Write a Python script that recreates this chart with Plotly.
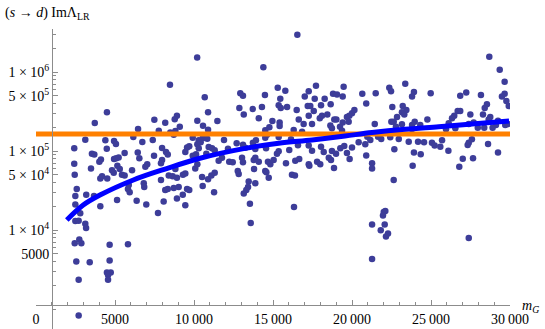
import plotly.graph_objects as go

# scatter points: m_G and (s -> d) Im Lambda_LR
m_g = [
    10200, 8480, 10680, 10890, 4490, 3720, 8920, 8780, 7490, 8180, 10210, 9100, 10570, 6460,
    7770, 8500, 8820, 10890, 3120, 4390, 4940, 5060, 6160, 6730, 7390, 8720, 9920, 10300,
    10550, 10840, 10210, 10420, 10930, 9700, 9560, 2420, 4480, 5610, 6440, 7980, 8230, 8340,
    9450, 9920, 10130, 10300, 10780, 3540, 3690, 4940, 5080, 5230, 4110, 4010, 6540, 7470,
    7980, 7910, 2420, 3480, 4810, 5150, 5300, 6080, 7040, 6920, 8820, 10080, 10210,
    16540, 14390, 15300, 15780, 17720, 19470, 17260, 17010, 18800, 19050, 19410, 20650, 12930,
    13100, 14490, 15460, 17640, 18270, 20900, 12870, 13720, 14300, 15360, 15490, 15890, 16500,
    17200, 17360, 17580, 18040, 18650, 13150, 14100, 14960, 15420, 16630, 17260, 17960, 18100,
    18440, 18880, 19010, 19410, 19680, 19830, 20000, 20150, 11480, 14770, 15420, 16940, 17470,
    18630, 18730, 19240, 19790, 19370, 14510, 16310, 16840, 11900, 12700, 13100, 13730, 13920,
    14510, 14620, 15360, 16140, 11140, 11310, 12150, 13250, 13880, 14560, 15360, 15250, 16030,
    16580, 17260, 17470, 18040, 18210, 18730, 19260, 19680, 19510, 20420, 20840, 20000, 20970,
    21160, 20900, 11770, 11560, 12230, 12450, 13040, 13100, 13780, 13880, 14100, 14680, 14830,
    15040, 15820, 16410, 16660, 17790, 17990, 18530, 18670, 18860, 17260, 19850, 12770, 13800,
    14510,
    28690, 29350, 29660, 23370, 22360, 22470, 21500, 23920, 23800, 24980, 27230, 26850, 28160,
    29660, 29490, 29770, 22550, 23210, 23440, 23160, 23310, 22850, 22490, 22640, 28540, 28400,
    28290, 29920, 26690, 26850, 26470, 26330, 27490, 28750, 28650, 24770, 21440, 22780, 23160,
    23800, 23970, 24320, 26120, 27390, 27700, 29240, 29110, 29700, 29870, 23800, 25950, 26540,
    27960, 28370, 28900, 21650, 21850, 22420, 22960, 23590, 24180, 24560, 25060, 25230, 25590,
    25700, 27390, 27590, 27320, 28610, 22680, 23920, 24350, 26100, 29240, 23840, 27010, 27660,
    26790, 21270, 21270, 17300, 18990,
    2450, 2580, 2490, 2490, 3180, 2800, 2490, 2700, 3120, 3170, 2450, 2740, 2870, 2550, 3400,
    2700, 4660, 4660, 4490, 4730, 4560, 4560, 5820, 2700, 4070, 5130, 3670, 4070, 4180, 4510,
    4920, 5440, 5610, 5870, 5820, 5930, 6370, 6820, 6850, 6980, 7720, 7910, 8080, 8180, 8340,
    8400, 8650, 8920, 8720, 9030, 8920, 9290, 9450, 9560, 9700, 9300, 9450, 10550, 10510,
    10890, 11100,
    11310, 11270, 12830, 13460, 13420, 13310, 13150, 13880, 13540, 13590, 14580, 14730, 16200,
    16390, 16330, 22640, 22010, 22110, 21960, 21270, 22070, 21820, 22280, 22150, 21270, 27390,
]
im_lambda = [
    1.53e6, 6.9e5, 4.8e5, 3.1e5, 3.1e5, 2.26e5, 2.8e5, 2.52e5, 2.49e5, 2.28e5, 2.42e5, 2.03e5,
    2.09e5, 1.9e5, 1.81e5, 1.72e5, 1.79e5, 1.86e5, 1.39e5, 1.37e5, 1.34e5, 1.23e5, 1.5e5,
    1.3e5, 1.38e5, 1.6e5, 1.47e5, 1.37e5, 1.45e5, 1.43e5, 1.22e5, 1.29e5, 1.12e5, 1.15e5,
    1.11e5, 1.08e5, 1.07e5, 9.4e4, 9.6e4, 1.09e5, 9.7e4, 9.0e4, 9.7e4, 8.7e4, 9.1e4, 1.08e5,
    9.2e4, 9.2e4, 9.0e4, 7.9e4, 8.1e4, 8.3e4, 7.8e4, 7.3e4, 8.1e4, 8.7e4, 7.7e4, 7.0e4,
    6.9e4, 6.0e4, 5.7e4, 6.5e4, 5.9e4, 5.7e4, 6.8e4, 6.3e4, 5.9e4, 6.0e4, 6.8e4,
    2.97e6, 1.15e6, 6.3e5, 5.8e5, 6.7e5, 6.5e5, 5.7e5, 4.9e5, 5.3e5, 5.2e5, 4.9e5, 5.3e5,
    5.4e5, 5.0e5, 5.1e5, 4.6e5, 4.6e5, 4.6e5, 4.0e5, 3.5e5, 3.4e5, 3.6e5, 3.8e5, 3.5e5,
    3.6e5, 3.3e5, 3.7e5, 3.7e5, 3.2e5, 3.8e5, 3.9e5, 2.9e5, 2.6e5, 2.4e5, 2.3e5, 2.5e5,
    2.8e5, 2.6e5, 2.8e5, 2.9e5, 2.5e5, 2.5e5, 2.3e5, 2.7e5, 2.8e5, 3.0e5, 3.3e5, 2.4e5,
    2.0e5, 2.07e5, 2.2e5, 2.2e5, 2.1e5, 1.94e5, 2.03e5, 2.35e5, 1.81e5, 1.83e5, 1.84e5,
    1.75e5, 1.38e5, 1.25e5, 1.2e5, 1.27e5, 1.37e5, 1.47e5, 1.6e5, 1.5e5, 1.41e5, 1.08e5,
    1.02e5, 1.07e5, 1.1e5, 1.06e5, 1.08e5, 9.9e4, 9.2e4, 1.03e5, 1.18e5, 1.17e5, 1.01e5,
    1.13e5, 9.7e4, 1.0e5, 1.08e5, 9.4e4, 1.16e5, 1.29e5, 1.22e5, 1.11e5, 1.52e5, 1.38e5,
    8.8e4, 8.2e4, 7.5e4, 7.3e4, 7.2e4, 8.2e4, 7.2e4, 7.7e4, 8.2e4, 7.3e4, 7.3e4, 6.8e4,
    7.7e4, 7.0e4, 7.5e4, 7.9e4, 7.3e4, 6.8e4, 8.2e4, 7.7e4, 6.1e4, 6.8e4, 7.9e4, 5.6e4,
    5.9e4, 5.6e4,
    1.56e6, 1.07e6, 7.5e5, 7.1e5, 6.3e5, 5.7e5, 5.4e5, 5.6e5, 4.9e5, 5.4e5, 5.5e5, 5.0e5,
    5.1e5, 5.3e5, 4.9e5, 4.3e5, 3.6e5, 3.7e5, 3.3e5, 3.1e5, 2.9e5, 2.7e5, 2.35e5, 2.35e5,
    3.9e5, 3.5e5, 2.9e5, 3.7e5, 3.2e5, 3.2e5, 2.8e5, 2.6e5, 2.9e5, 2.7e5, 2.5e5, 2.5e5,
    2.2e5, 2.03e5, 2.18e5, 2.13e5, 2.35e5, 2.13e5, 2.24e5, 2.2e5, 2.3e5, 2.42e5, 2.13e5,
    2.13e5, 2.2e5, 1.9e5, 1.88e5, 1.94e5, 1.97e5, 1.97e5, 1.97e5, 1.52e5, 1.42e5, 1.49e5,
    1.42e5, 1.31e5, 1.31e5, 1.29e5, 1.27e5, 1.17e5, 1.13e5, 1.37e5, 1.27e5, 1.41e5, 1.19e5,
    1.23e5, 1.05e5, 9.6e4, 9.1e4, 1.01e5, 9.6e4, 6.5e4, 8.0e4, 8.1e4, 6.3e4, 7.0e4, 6.0e4,
    6.5e4, 9.2e4,
    5.0e4, 3.3e4, 2.7e4, 2.1e4, 2.8e4, 1.63e4, 1.3e4, 1.31e4, 1.2e4, 1.06e4, 6.8e3, 7.6e3,
    6.8e3, 4.0e3, 3.9e3, 2.35e3, 6.5e3, 4.1e3, 2.9e3, 2.9e3, 2.7e3, 2.35e3, 6.6e3, 830,
    2.0e4, 2.4e4, 2.7e4, 4.5e4, 4.8e4, 4.5e4, 5.3e4, 5.0e4, 4.9e4, 3.7e4, 3.3e4, 3.0e4,
    2.35e4, 3.9e4, 3.5e4, 2.1e4, 1.64e4, 4.3e4, 2.3e4, 3.2e4, 3.3e4, 4.9e4, 4.8e4, 4.6e4,
    3.4e4, 3.5e4, 2.5e4, 2.8e4, 2.06e4, 3.3e4, 3.2e4, 5.0e4, 5.2e4, 3.6e4, 4.7e4, 4.4e4,
    4.9e4,
    5.3e4, 3.0e4, 5.1e4, 4.1e4, 3.5e4, 3.2e4, 2.9e4, 3.9e4, 2.15e4, 1.23e4, 5.4e4, 4.6e4,
    5.0e4, 4.9e4, 1.95e4, 4.3e4, 1.69e4, 1.74e4, 1.53e4, 1.17e4, 1.17e4, 9.9e3, 9.0e3,
    8.3e3, 4.3e3, 7.9e3,
]

# fitted curve (blue)
fit_m = [1950, 2990, 4050, 6160, 8270, 10380, 13230, 15360, 17470, 19560, 21270, 23350,
         25490, 27590, 29940]
fit_val = [1.34e4, 2.07e4, 2.77e4, 4.3e4, 6.0e4, 8.1e4, 1.08e5, 1.25e5, 1.38e5, 1.55e5,
           1.71e5, 1.88e5, 2.03e5, 2.2e5, 2.4e5]

# horizontal bound (orange)
bound_m = [0, 30000]
bound_val = [1.64e5, 1.64e5]

x_ticks = [0, 5000, 10000, 15000, 20000, 25000, 30000]
x_labels = ["0", "5000", "10\u2009000", "15\u2009000", "20\u2009000", "25\u2009000", "30\u2009000"]
y_ticks = [5000, 1e4, 5e4, 1e5, 5e5, 1e6]
y_labels = ["5000", "1 × 10<sup>4</sup>", "5 × 10<sup>4</sup>", "1 × 10<sup>5</sup>",
            "5 × 10<sup>5</sup>", "1 × 10<sup>6</sup>"]
y_minor = [1000, 2000, 3000, 4000, 6000, 7000, 8000, 9000,
           20000, 30000, 40000, 60000, 70000, 80000, 90000,
           200000, 300000, 400000, 600000, 700000, 800000, 900000,
           2000000, 3000000]

W, H = 545, 329
FONT = "Liberation Serif"
GRAY = "rgb(140,140,140)"

fig = go.Figure()

fig.add_trace(go.Scatter(
    x=m_g, y=im_lambda, mode="markers",
    marker=dict(size=6.5, color="rgb(61,61,153)", line=dict(width=0)),
))
fig.add_trace(go.Scatter(
    x=bound_m, y=bound_val, mode="lines",
    line=dict(color="rgb(255,128,0)", width=5),
))
fig.add_trace(go.Scatter(
    x=fit_m, y=fit_val, mode="lines", line_shape="spline",
    line=dict(color="rgb(0,0,255)", width=5),
))

fig.update_layout(
    width=W, height=H,
    margin=dict(l=0, r=0, t=0, b=0, autoexpand=False),
    paper_bgcolor="white", plot_bgcolor="white",
    showlegend=False,
    font=dict(family=FONT, size=14, color="black"),
    xaxis=dict(
        domain=[36 / W, 510 / W], range=[0, 30000],
        anchor="free", position=(H - 304.5) / H, automargin=False,
        showgrid=False, zeroline=False,
        showline=True, linecolor=GRAY, linewidth=1,
        tickmode="array", tickvals=x_ticks, ticktext=x_labels,
        ticks="inside", ticklen=5, tickcolor=GRAY,
        minor=dict(tickmode="linear", tick0=0, dtick=1000, ticks="inside",
                   ticklen=3, tickcolor=GRAY),
        ticklabelstandoff=2,
    ),
    yaxis=dict(
        type="log", domain=[0, 300 / H], range=[2.7468, 6.5443],
        anchor="free", position=52 / W, automargin=False,
        showgrid=False, zeroline=False,
        showline=True, linecolor=GRAY, linewidth=1,
        tickmode="array", tickvals=y_ticks, ticktext=y_labels,
        ticks="inside", ticklen=5, tickcolor=GRAY,
        minor=dict(tickmode="array", tickvals=y_minor, ticks="inside",
                   ticklen=3, tickcolor=GRAY),
    ),
)

fig.add_annotation(
    text="(<i>s</i> → <i>d</i>) ImΛ<sub>LR</sub>",
    xref="paper", yref="paper", x=3 / W, y=1 - 14 / H,
    xanchor="left", yanchor="middle", showarrow=False,
    font=dict(family=FONT, size=14),
)
fig.add_annotation(
    text="<i>m</i><sub><i>G</i></sub>",
    xref="paper", yref="paper", x=520 / W, y=1 - 306 / H,
    xanchor="left", yanchor="middle", showarrow=False,
    font=dict(family=FONT, size=14),
)

# the page's default body margin would push the figure 8 px off the window
fig.write_html(
    "out.html",
    config={"displayModeBar": False},
    post_script="document.body.style.margin = '0';",
)
